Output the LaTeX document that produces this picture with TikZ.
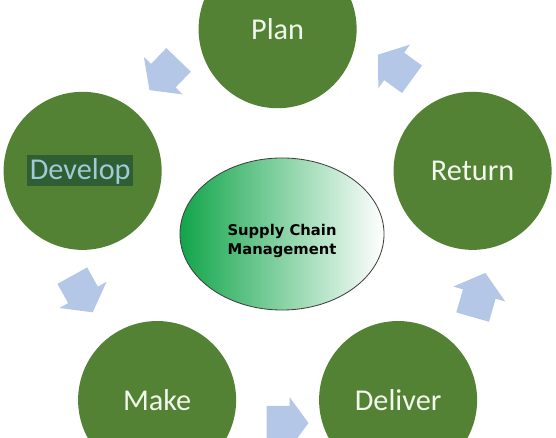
\documentclass[tikz,border=0pt]{standalone}
\usepackage{fontspec}
\setmainfont{Carlito}
\newfontfamily\scmfont{DejaVu Sans}
\usetikzlibrary{shapes.geometric}
\definecolor{stagegreen}{RGB}{84,130,53}
\definecolor{stagetext}{RGB}{242,248,236}
\definecolor{developbg}{RGB}{46,94,50}
\definecolor{developtext}{RGB}{160,202,214}
\definecolor{flowblue}{RGB}{180,199,231}
\definecolor{scmgreen}{RGB}{17,165,74}
\definecolor{scmedge}{RGB}{64,64,64}

\begin{document}
\begin{tikzpicture}[x=0.025cm,y=0.025cm,
  stage/.style={circle,fill=stagegreen,inner sep=0pt,minimum size=3.95cm,text=stagetext,font=\fontsize{21.5}{25}\selectfont},
  flow/.style={fill=flowblue}]
\useasboundingbox (0,0) rectangle (556,438);
\clip (0,0) rectangle (556,438);
\coordinate (hub) at (277.6,203.8);
\node [stage] (plan) at ([shift={(90:205)}]hub) {Plan};
\node [stage] (return) at ([shift={(18:205)}]hub) {Return};
\node [stage] (deliver) at ([shift={(-54:205)}]hub) {Deliver};
\node [stage] (make) at ([shift={(-126:205)}]hub) {Make};
\node [stage] (develop) at ([shift={(162:205)}]hub) {};
\node [fill=developbg,text=developtext,font=\fontsize{21.5}{25}\selectfont,text height=0.56cm,text depth=0.15cm,inner xsep=0.06cm,inner ysep=0.03cm] (developlabel) at ([xshift=-0.06cm]develop.center) {Develop};
\fill [flow,shift={(164,363)},rotate=226] (-21,-17)--(1,-17)--(1,-27)--(21,0)--(1,27)--(1,17)--(-21,17)--cycle;
\fill [flow,shift={(395,371)},rotate=144] (-21,-17)--(1,-17)--(1,-27)--(21,0)--(1,27)--(1,17)--(-21,17)--cycle;
\fill [flow,shift={(82.5,144)},rotate=-61] (-21,-17)--(1,-17)--(1,-27)--(21,0)--(1,27)--(1,17)--(-21,17)--cycle;
\fill [flow,shift={(479,143)},rotate=74] (-23,-17)--(1,-17)--(1,-27)--(23,0)--(1,27)--(1,17)--(-23,17)--cycle;
\fill [flow,shift={(287.5,15)},rotate=0] (-21,-17)--(2,-17)--(2,-26)--(21,0)--(2,26)--(2,17)--(-21,17)--cycle;
\node [ellipse,draw=scmedge,line width=0.6pt,minimum width=5.1cm,minimum height=3.8cm,left color=scmgreen,middle color=scmgreen!25!white,right color=white] (scm) at (282,204) {};
\node [font=\scmfont\bfseries\fontsize{10.5}{13.5}\selectfont,align=center] (scmtext) at ([yshift=-0.18cm]scm.center) {Supply Chain\\Management};
\end{tikzpicture}
\end{document}
